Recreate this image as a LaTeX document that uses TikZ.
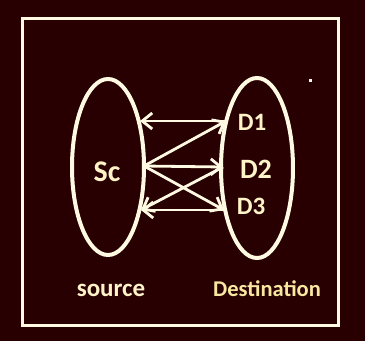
\documentclass[tikz,border=0pt]{standalone}
\usepackage{fontspec}
\setmainfont{Carlito}
\usetikzlibrary{arrows.meta,shapes.geometric}
\definecolor{bg}{RGB}{40,0,2}
\definecolor{ink}{RGB}{255,250,225}
\definecolor{txt}{RGB}{255,244,200}
\definecolor{ytxt}{RGB}{248,232,160}
\tikzset{
  oval/.style={draw=ink,line width=4pt,ellipse,inner sep=0pt},
  link/.style={draw=ink,line width=2.8pt,-{Straight Barb[length=10pt,width=16pt,line width=2.8pt]}},
  lbl/.style={text=txt,font=\bfseries,inner sep=0pt}
}
\begin{document}
\begin{tikzpicture}[x=1pt,y=-1pt]
\fill[bg] (0,0) rectangle (365,341);
\useasboundingbox (0,0) rectangle (365,341);
\draw[ink,line width=3pt] (22,18) rectangle (338,325);
\node[oval,minimum width=72pt,minimum height=176pt] (S) at (108,167) {};
\node[oval,minimum width=72pt,minimum height=180pt] (D) at (257,168) {};
\coordinate (sTop) at (140,121);
\coordinate (sMid) at (144,166);
\coordinate (sBot) at (141,210);
\coordinate (d1) at (226,121);
\coordinate (d2) at (223,167);
\coordinate (d3) at (224,210);
\draw[link] (d1) -- (sTop);
\draw[link] (sMid) -- (d1);
\draw[link] (sMid) -- (d2);
\draw[link] (sMid) -- (d3);
\draw[link] (d2) -- (sBot);
\draw[link] (d3) -- (sBot);
\node[lbl,font=\bfseries\fontsize{30}{32}\selectfont] (sc) at (107,172) {Sc};
\node[lbl,font=\bfseries\fontsize{25}{27}\selectfont] (n1) at (252,122) {D1};
\node[lbl,font=\bfseries\fontsize{28}{30}\selectfont] (n2) at (256,169) {D2};
\node[lbl,font=\bfseries\fontsize{25}{27}\selectfont] (n3) at (251,206) {D3};
\node[lbl,font=\bfseries\fontsize{25}{27}\selectfont] (src) at (111,290) {source};
\node[lbl,text=ytxt,font=\bfseries\fontsize{22.5}{24}\selectfont] (dst) at (267,289) {Destination};
\fill[ink] (309,79) rectangle (312,82);
\end{tikzpicture}
\end{document}
